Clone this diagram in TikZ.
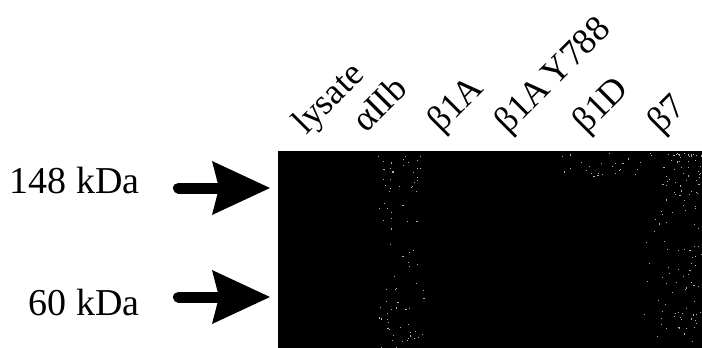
\documentclass[tikz,border=0pt]{standalone}
\usepackage{fontspec}
\setmainfont{Liberation Serif}
\usetikzlibrary{arrows.meta}
\begin{document}
\begin{tikzpicture}[x=1pt,y=-1pt,
  mass/.style={anchor=base east, inner sep=0pt, font=\fontsize{38}{44}\selectfont},
  lane/.style={anchor=base west, inner sep=0pt, rotate=45, font=\fontsize{36}{42}\selectfont},
  bigarrow/.style={line width=11pt, line cap=round,
    -{Stealth[length=58pt,width=54pt,inset=7pt,line width=0pt]}},
  speck/.style={fill=gray!60, draw=none}]
\useasboundingbox (0,0) rectangle (702,348);
% blot
\node[fill=black, draw=none, inner sep=0pt, minimum width=424pt, minimum height=197pt,
  anchor=north west] (blot) at (278,151) {};
% speckles
\pgfmathsetseed{17}
\foreach \i in {1,...,80}{
  \pgfmathsetmacro{\px}{378+46*rnd}
  \pgfmathsetmacro{\py}{152+195*rnd}
  \fill[speck] (\px,\py) rectangle ++(1.1,1.1);
}
\foreach \i in {1,...,130}{
  \pgfmathsetmacro{\px}{640+61*rnd^0.6}
  \pgfmathsetmacro{\py}{152+195*rnd^1.6}
  \fill[speck] (\px,\py) rectangle ++(1.1,1.1);
}
\foreach \i in {1,...,25}{
  \pgfmathsetmacro{\px}{560+90*rnd}
  \pgfmathsetmacro{\py}{152+25*rnd}
  \fill[speck] (\px,\py) rectangle ++(1.1,1.1);
}
% mass labels
\node[mass] (m148) at (140,193) {148 kDa};
\node[mass] (m60) at (140,315) {60 kDa};
% arrows
\coordinate (a148) at (178.5,188);
\coordinate (a60) at (178.5,297);
\draw[bigarrow, shorten >=8pt] (a148) -- (a148 -| blot.west);
\draw[bigarrow, shorten >=8pt] (a60) -- (a60 -| blot.west);
% lane labels
\node[lane] (l1) at (306,136) {lysate};
\node[lane] (l2) at (366,134) {αIIb};
\node[lane] (l3) at (441,134) {β1A};
\node[lane] (l4) at (508,135) {β1A\kern5pt Y788};
\node[lane] (l5) at (586,135) {β1D};
\node[lane] (l6) at (661,135) {β7};
\end{tikzpicture}
\end{document}
